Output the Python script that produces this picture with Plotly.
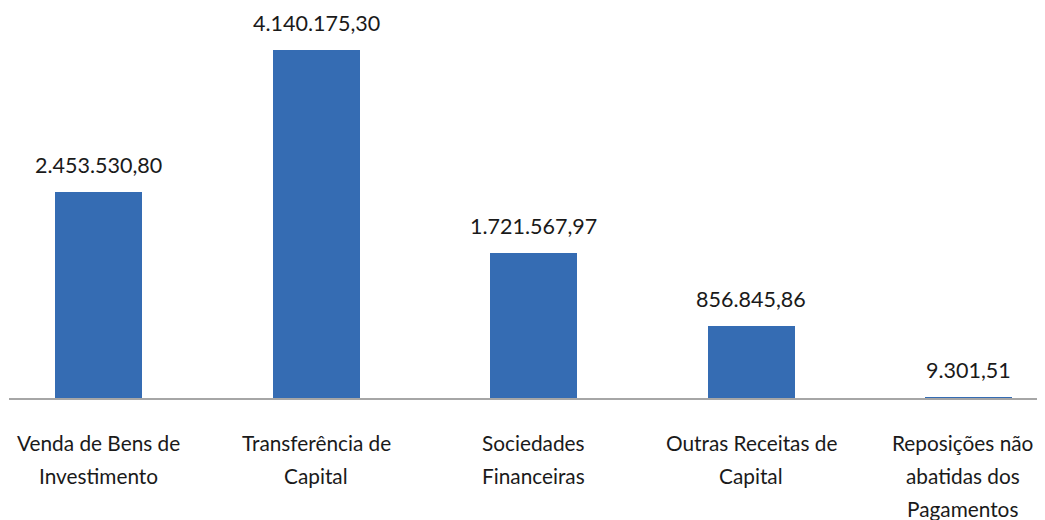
import plotly.graph_objects as go

categories = [
    ["Venda de Bens de", "Investimento"],
    ["Transferência de", "Capital"],
    ["Sociedades", "Financeiras"],
    ["Outras Receitas de", "Capital"],
    ["Reposições não", "abatidas dos", "Pagamentos"],
]
values = [2453530.80, 4140175.30, 1721567.97, 856845.86, 9301.51]
value_labels = ["2.453.530,80", "4.140.175,30", "1.721.567,97", "856.845,86", "9.301,51"]

FONT = "Lato"
TXT = "#1a1a1a"

xs = list(range(len(values)))

fig = go.Figure()
fig.add_trace(go.Bar(
    x=xs, y=values, width=0.4,
    marker=dict(color="#356CB3", line=dict(width=0)),
    hoverinfo="skip",
))

annotations = []
for i, (v, lab) in enumerate(zip(values, value_labels)):
    annotations.append(dict(
        x=i, y=v, xref="x", yref="y", text=lab, showarrow=False,
        yanchor="bottom", yshift=12, font=dict(family=FONT, size=21.5, color=TXT),
    ))
for i, lines in enumerate(categories):
    last = i == len(categories) - 1
    for k, line in enumerate(lines):
        annotations.append(dict(
            x=i, y=0, xref="x", yref="paper", text=line, showarrow=False,
            yanchor="middle", yshift=-44 - 33 * k, xshift=-6 if last else 0,
            font=dict(family=FONT, size=20.8, color=TXT),
        ))

fig.update_layout(
    width=1037, height=512,
    margin=dict(l=1, r=0, t=0, b=122),
    paper_bgcolor="white", plot_bgcolor="white",
    showlegend=False,
    bargap=0,
    xaxis=dict(range=[-0.4115, 4.3517], showticklabels=False, showgrid=False,
               zeroline=False, showline=True, linecolor="#A6A6A6", linewidth=2,
               ticks="", fixedrange=True),
    yaxis=dict(range=[0, 4639500], visible=False, fixedrange=True),
    annotations=annotations,
)

fig.write_html("out.html")
